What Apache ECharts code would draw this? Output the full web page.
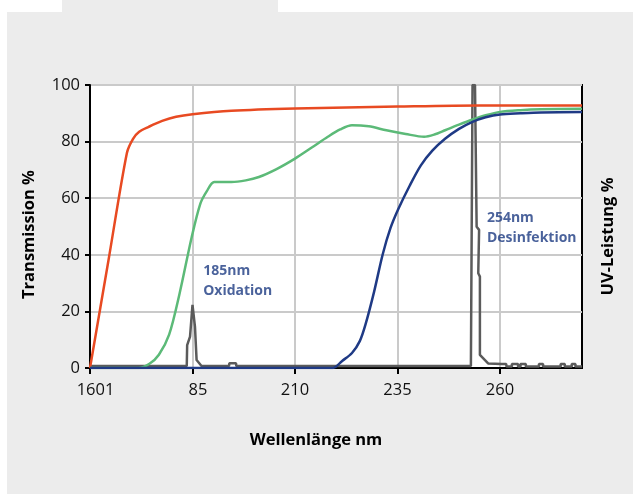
<!DOCTYPE html>
<html><head><meta charset="utf-8">
<script src="https://cdn.jsdelivr.net/npm/echarts@6/dist/echarts.min.js"></script>
<style>
html,body{margin:0;padding:0;background:#fff;width:633px;height:494px;overflow:hidden}
#bg{position:absolute;left:7px;top:12px;width:626px;height:482px;background:#ececec}
#tab{position:absolute;left:62px;top:0;width:216px;height:12px;background:#ececec}
#c{position:absolute;left:0;top:0;width:633px;height:494px}
</style></head>
<body>
<div id="bg"></div><div id="tab"></div>
<div id="c"></div>
<script>
// X tick values and their printed labels
const xTickValues = [160, 185, 210, 235, 260];
const xTickLabels = ['1601', '85', '210', '235', '260'];
const yTickValues = [0, 20, 40, 60, 80, 100];

// Transmission curves [wavelength nm, transmission %]
const redCurve = [[160,0],[164.5,38],[169,76],[170.5,81],[172,83.5],[174.3,85.2],[177.6,87.3],[181,88.8],[185,89.7],[194.5,90.9],[210,91.7],[235,92.4],[255,92.8],[280,92.8]];
const greenCurve = [[160,0],[171.8,0],[174.5,1.5],[176.8,4.7],[179.3,11.8],[181.8,26],[184.8,46.2],[186.9,58],[188.5,62.5],[190.3,65.7],[194.5,65.7],[198,66.3],[201.2,67.5],[205.5,70.3],[210,74],[214,77.8],[218,81.7],[221,84.3],[223.9,85.8],[228,85.4],[232.3,84],[237,82.7],[241.5,81.7],[244,82.5],[246.6,84],[250,86],[253.3,87.8],[256.5,89.3],[260,90.5],[265,91.1],[270,91.4],[280,91.6]];
const navyCurve = [[160,0],[219.2,0],[221.5,2.5],[223.9,5.3],[225.8,9.5],[227.2,15.4],[229.3,27],[231.4,40.2],[233.3,49.5],[235.2,56.2],[238,64.5],[240.7,71.6],[243.5,76.8],[246.6,81],[250,84.5],[253.3,87],[256.5,88.6],[260,89.6],[265,90],[270,90.3],[280,90.5]];
// UV lamp output [wavelength nm, UV-Leistung %]
const uvSpectrum = [[160,0.7],[183.6,0.7],[183.7,8.1],[184.4,11.1],[185,22.3],[185.6,14.6],[186,2.8],[187.2,0.7],[193.9,0.7],[194,1.7],[195.6,1.7],[195.7,0.7],[252.9,0.7],[253.1,0],[253.3,100],[253.9,100],[254.3,49.9],[254.9,48.8],[254.7,33.5],[255.1,32.3],[255.1,4.6],[257.1,1.6],[260.4,1.4],[261.5,1.4],[261.6,0.5],[262.9,0.5],[262.9,1.4],[264.4,1.4],[264.4,0.5],[265,0.5],[265,1.4],[266.3,1.4],[266.3,0.5],[269.5,0.5],[269.5,1.4],[270.5,1.4],[270.5,0.5],[274.8,0.5],[274.8,1.4],[275.8,1.4],[275.8,0.5],[277.5,0.5],[277.5,1.4],[278.4,1.4],[278.4,0.5],[280,0.5]];
// Annotations [wavelength, %, text]
const notes = [[187.6, 30.7, '185nm\nOxidation'], [256.8, 49.6, '254nm\nDesinfektion']];

const FONT = 'Open Sans';
const chart = echarts.init(document.getElementById('c'), null, {renderer:'canvas'});
const labelMap = {};
xTickValues.forEach((v,i)=>labelMap[v]=xTickLabels[i]);

function lineSeries(data, color, yIdx, smooth) {
  return {type:'line', data, yAxisIndex:yIdx||0, showSymbol:false, symbol:'none',
    smooth: smooth ? 0.3 : false,
    lineStyle:{color, width:2.5}, z:3, animation:false};
}

chart.setOption({
  animation:false,
  backgroundColor:'transparent',
  grid:{left:90, right:51, top:85, bottom:126, show:true, backgroundColor:'#fff', borderColor:'#000', borderWidth:2, containLabel:false},
  xAxis:{type:'value', min:160, max:280,
    name:'Wellenlänge nm', nameLocation:'middle', nameGap:64,
    nameTextStyle:{fontFamily:FONT, fontWeight:'bold', fontSize:16.5, color:'#000', padding:[0,40,0,0]},
    axisLine:{show:true, onZero:false, lineStyle:{color:'#000', width:2}},
    axisTick:{show:true, customValues:xTickValues, length:6, lineStyle:{color:'#000', width:2}},
    axisLabel:{customValues:xTickValues, margin:14, fontFamily:FONT, fontSize:16.5, color:'#111',
      formatter:(v)=>{ const t = labelMap[v] || ''; return (v===160||v===185) ? '{s|'+t+'}' : t; },
      rich:{s:{fontFamily:FONT, fontSize:16.5, color:'#111', padding:[0,0,0,11]}}},
    splitLine:{show:true, lineStyle:{color:'#cacaca', width:2}},
    interval:25
  },
  yAxis:[{type:'value', min:0, max:100, interval:20,
    name:'Transmission %', nameLocation:'middle', nameGap:52, nameRotate:90,
    nameTextStyle:{fontFamily:FONT, fontWeight:'bold', fontSize:16.5, color:'#000', padding:[0,16,0,0]},
    axisLine:{show:true, lineStyle:{color:'#000', width:2}},
    axisTick:{show:true, length:5, lineStyle:{color:'#000', width:2}},
    axisLabel:{margin:10, fontFamily:FONT, fontSize:16.5, color:'#111'},
    splitLine:{show:true, lineStyle:{color:'#cacaca', width:2}}
  },{type:'value', min:0, max:100, position:'right',
    name:'UV-Leistung %', nameLocation:'middle', nameGap:18, nameRotate:90,
    nameTextStyle:{fontFamily:FONT, fontWeight:'bold', fontSize:16.5, color:'#000', padding:[0,20,0,0]},
    axisLine:{show:false}, axisTick:{show:false}, axisLabel:{show:false}, splitLine:{show:false}
  }],
  series:[
    lineSeries(uvSpectrum, '#5b5b5b', 1, false),
    lineSeries(redCurve, '#e84a22', 0, true),
    lineSeries(greenCurve, '#5cba78', 0, true),
    lineSeries(navyCurve, '#1f3a85', 0, true),
    {type:'scatter', symbolSize:0, z:5, animation:false,
      data: notes.map(n=>({value:[n[0],n[1]], label:{formatter:n[2]}})),
      label:{show:true, position:'inside', align:'left', verticalAlign:'middle',
        fontFamily:FONT, fontWeight:'bold', fontSize:14, lineHeight:20, color:'#1d3b82'}}
  ]
});
</script>
</body></html>
